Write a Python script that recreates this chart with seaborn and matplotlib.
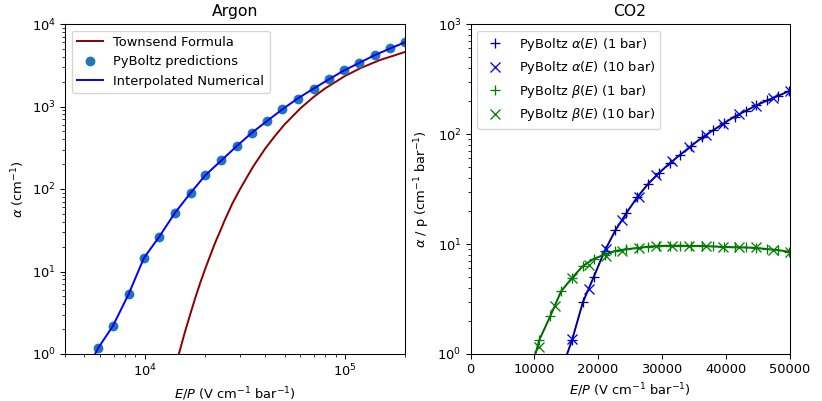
import numpy as np
import pandas as pd
import matplotlib
matplotlib.use("Agg")
import matplotlib.pyplot as plt
import seaborn as sns

# Argon: PyBoltz points (E/P in V/cm/bar, alpha in 1/cm)
ar_E = [5843, 6943, 8318, 9920, 11845, 14125, 16982, 20120, 24180, 28840, 34400,
        40890, 48820, 58210, 69980, 83180, 99200, 118450, 141250, 169240, 199500]
ar_alpha = [1.17, 2.19, 5.32, 14.6, 26.5, 50.8, 89.9, 147, 222, 331, 482,
            667, 926, 1250, 1652, 2128, 2735, 3386, 4198, 5070, 5993]

# interpolated numerical curve
ar_interp_E = [5600] + ar_E
ar_interp_alpha = [0.95] + ar_alpha

# Townsend formula curve
ts_E = [14500, 15000, 15500, 16000, 17000, 18000, 19000, 20000, 21000, 22500, 24000,
        25000, 27500, 30000, 32500, 35000, 40000, 45000, 50000, 60000, 70000,
        80000, 100000, 120000, 150000, 175000, 200000]
ts_alpha = [0.82, 1.11, 1.48, 1.95, 3.18, 4.98, 7.4, 10.5, 14.4, 22.3, 32.0,
            40.7, 67.5, 100, 140, 190, 308, 446, 605, 949, 1309,
            1665, 2333, 2922, 3659, 4125, 4583]

# CO2 (E/P in V/cm/bar, coefficients over p in 1/cm/bar)
co2_E1 = [10805, 12505, 14205, 15905, 17605, 19305, 21005, 22705, 24405, 26105,
          27805, 29505, 31205, 32905, 34605, 36305, 38005, 39705, 41405, 43105,
          44805, 46505, 48205, 49905]
co2_E10 = [10700, 13320, 15940, 18560, 21180, 23800, 26420, 29040, 31660, 34280,
           36900, 39520, 42140, 44760, 47380, 50000]

alpha_E1 = co2_E1[3:]
alpha_1bar = [1.33, 2.95, 5.0, 8.6, 13.3, 19.0, 26.5, 35, 44, 54,
              65, 78, 93, 108, 125, 144, 162, 182, 202, 222, 245]
alpha_E10 = co2_E10[2:]
alpha_10bar = [1.38, 3.9, 9.0, 16.5, 27, 42, 57, 76, 98, 124, 152, 180, 212, 248]

beta_1bar = [1.35, 2.21, 3.72, 4.91, 6.3, 7.33, 8.0, 8.65, 8.95, 9.2,
             9.45, 9.6, 9.65, 9.65, 9.6, 9.6, 9.5, 9.4, 9.35, 9.3,
             9.2, 9.0, 8.8, 8.5]
beta_10bar = [1.15, 2.75, 4.9, 6.47, 7.85, 8.7, 9.2, 9.55, 9.6, 9.6,
              9.65, 9.35, 9.4, 9.3, 8.9, 8.5]

# fitted curves through the points
alpha_line_E = [15140] + alpha_E1
alpha_line = [1.0] + alpha_1bar
beta_line_E = [10178] + co2_E1
beta_line = [1.0] + beta_1bar

DPI = 94
fig = plt.figure(figsize=(822 / DPI, 401 / DPI), dpi=DPI)
ax1 = fig.add_axes([65 / 822, 1 - 354 / 401, 340 / 822, 330 / 401])
ax2 = fig.add_axes([470.5 / 822, 1 - 354 / 401, 319 / 822, 330 / 401])

# --- Argon ---
sns.lineplot(x=ts_E, y=ts_alpha, color="darkred", linewidth=1.5,
             label="Townsend Formula", estimator=None, ax=ax1)
sns.lineplot(x=ar_E, y=ar_alpha, color="C0", linestyle="", marker="o",
             markersize=7.5, markeredgecolor="C0", markeredgewidth=0,
             label="PyBoltz predictions", estimator=None, ax=ax1)
sns.lineplot(x=ar_interp_E, y=ar_interp_alpha, color="blue", linewidth=1.5,
             label="Interpolated Numerical", estimator=None, ax=ax1)
ax1.set_xscale("log")
ax1.set_yscale("log")
ax1.set_xlim(4000, 2e5)
ax1.set_ylim(1, 1e4)
ax1.set_title("Argon")
ax1.set_xlabel(r"$E/P$ (V cm$^{-1}$ bar$^{-1}$)")
ax1.set_ylabel(r"$\alpha$ (cm$^{-1}$)")
ax1.legend(loc="upper left")

# --- CO2 ---
sns.lineplot(x=alpha_line_E, y=alpha_line, color="darkblue", linewidth=1.5,
             estimator=None, ax=ax2)
sns.lineplot(x=beta_line_E, y=beta_line, color="darkgreen", linewidth=1.5,
             estimator=None, ax=ax2)
sns.lineplot(x=alpha_E1, y=alpha_1bar, color="darkblue", linestyle="", marker="+",
             markersize=7, markeredgecolor="darkblue", markeredgewidth=1,
             label=r"PyBoltz $\alpha(E)$ (1 bar)", estimator=None, ax=ax2)
sns.lineplot(x=alpha_E10, y=alpha_10bar, color="blue", linestyle="", marker="x",
             markersize=7, markeredgecolor="blue", markeredgewidth=1,
             label=r"PyBoltz $\alpha(E)$ (10 bar)", estimator=None, ax=ax2)
sns.lineplot(x=co2_E1, y=beta_1bar, color="green", linestyle="", marker="+",
             markersize=7, markeredgecolor="green", markeredgewidth=1,
             label=r"PyBoltz $\beta(E)$ (1 bar)", estimator=None, ax=ax2)
sns.lineplot(x=co2_E10, y=beta_10bar, color="green", linestyle="", marker="x",
             markersize=7, markeredgecolor="green", markeredgewidth=1,
             label=r"PyBoltz $\beta(E)$ (10 bar)", estimator=None, ax=ax2)
ax2.set_yscale("log")
ax2.set_xlim(0, 50000)
ax2.set_ylim(1, 1000)
ax2.set_xticks([0, 10000, 20000, 30000, 40000, 50000])
ax2.set_title("CO2")
ax2.set_xlabel(r"$E/P$ (V cm$^{-1}$ bar$^{-1}$)")
ax2.set_ylabel(r"$\alpha$ / p (cm$^{-1}$ bar$^{-1}$)")
ax2.legend(loc="upper left")

fig.savefig("out.png", dpi=DPI)
